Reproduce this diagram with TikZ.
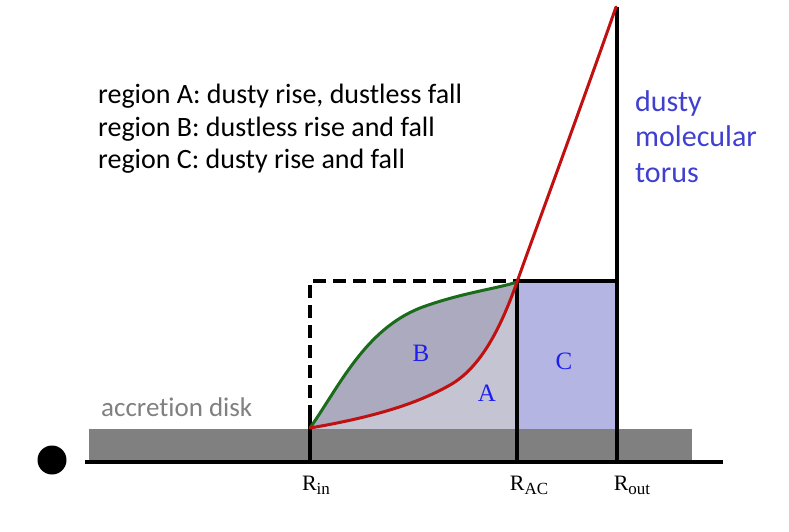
\documentclass[tikz,border=0pt]{standalone}
\usepackage{fontspec}
\setmainfont{Carlito}[Ligatures=NoCommon]
\newfontfamily\rserif{Liberation Serif}
\definecolor{fillA}{RGB}{196,196,210}
\definecolor{fillB}{RGB}{171,170,190}
\definecolor{fillC}{RGB}{181,181,228}
\definecolor{diskgray}{RGB}{128,128,128}
\definecolor{curvered}{RGB}{192,16,16}
\definecolor{curvegreen}{RGB}{26,107,26}
\definecolor{torusblue}{RGB}{64,64,208}
\definecolor{letterblue}{RGB}{30,30,240}
\definecolor{disktext}{RGB}{128,128,128}
\tikzset{
  bline/.style={line width=3.6pt, black},
  dashline/.style={line width=3.6pt, black, dash pattern=on 13pt off 7pt},
  axisline/.style={line width=4pt, black},
  redcurve/.style={line width=3pt, curvered, line cap=round},
  greencurve/.style={line width=3pt, curvegreen, line cap=round},
  legend/.style={anchor=base west, inner sep=0pt, font=\fontsize{28}{28}\selectfont},
  torustxt/.style={anchor=base west, inner sep=0pt, text=torusblue, font=\fontsize{30}{30}\selectfont},
  regionlbl/.style={inner sep=0pt, text=letterblue, font=\rserif\fontsize{25}{25}\selectfont},
  rlabel/.style={anchor=base, inner sep=0pt, font=\rserif\fontsize{22}{22}\selectfont}
}
\newcommand{\rsub}[1]{\raisebox{-4pt}{\fontsize{17}{17}\selectfont #1}}
\begin{document}
\begin{tikzpicture}[x=1pt,y=-1pt]
\useasboundingbox (0,0) rectangle (789,531);
% key points
\coordinate (rin) at (310,428);
\coordinate (rac) at (517,282);
\coordinate (top) at (616,7);
\coordinate (mid) at (450,385);
\coordinate (gmid) at (420,308);
% fills
\fill[fillA] (rin) .. controls (380,416) and (420,402) .. (mid) .. controls (480,368) and (500,330) .. (rac) -- (517,429) -- (310,429) -- cycle;
\fill[fillB] (rin) .. controls (340,385) and (365,330) .. (gmid) .. controls (460,293) and (500,288) .. (rac) .. controls (500,330) and (480,368) .. (mid) .. controls (420,402) and (380,416) .. (rin) -- cycle;
\fill[fillC] (517,281) rectangle (617,429);
\fill[diskgray] (89,429) rectangle (692,460);
% axes and lines
\coordinate (axL) at (85,462);
\coordinate (axR) at (723,462);
\draw[axisline] (axL) -- (axR);
\coordinate (inB) at (310,462);
\coordinate (inS) at (310,418);
\coordinate (boxTL) at (310,281);
\coordinate (boxTR) at (517,281);
\coordinate (acB) at (517,462);
\coordinate (outT) at (617,281);
\coordinate (outB) at (617,462);
\coordinate (outTop) at (617,7);
\draw[bline] (inB) -- (inS);
\draw[dashline] (inS) -- (boxTL) -- (boxTR);
\draw[bline] (acB) -- (boxTR) -- (outT);
\draw[bline] (outB) -- (outTop);
% curves
\draw[greencurve] (rin) .. controls (340,385) and (365,330) .. (gmid) .. controls (460,293) and (500,288) .. (rac);
\draw[redcurve] (rin) .. controls (380,416) and (420,402) .. (mid) .. controls (480,368) and (500,330) .. (rac) .. controls (530,245) and (580,110) .. (top);
% black hole
\fill[black] (52,460) circle (14.5);
% labels
\node[regionlbl] (lB) at (421,353) {B};
\node[regionlbl] (lA) at (487,393) {A};
\node[regionlbl] (lC) at (564,361) {C};
\node[legend] (t1) at (98,103) {region A: dusty rise, dustless fall};
\node[legend] (t2) at (98,136) {region B: dustless rise and fall};
\node[legend] (t3) at (98,168) {region C: dusty rise and fall};
\node[torustxt] (d1) at (635,111) {dusty};
\node[torustxt] (d2) at (635,146) {molecular};
\node[torustxt] (d3) at (635,182) {torus};
\node[anchor=base west, inner sep=0pt, text=disktext, font=\fontsize{27}{27}\selectfont] (acc) at (101,416) {accretion disk};
\node[rlabel] (Rin) at (316,490) {R\rsub{in}};
\node[rlabel] (Rac) at (529,490) {R\rsub{AC}};
\node[rlabel] (Rout) at (632,490) {R\rsub{out}};
\end{tikzpicture}
\end{document}
